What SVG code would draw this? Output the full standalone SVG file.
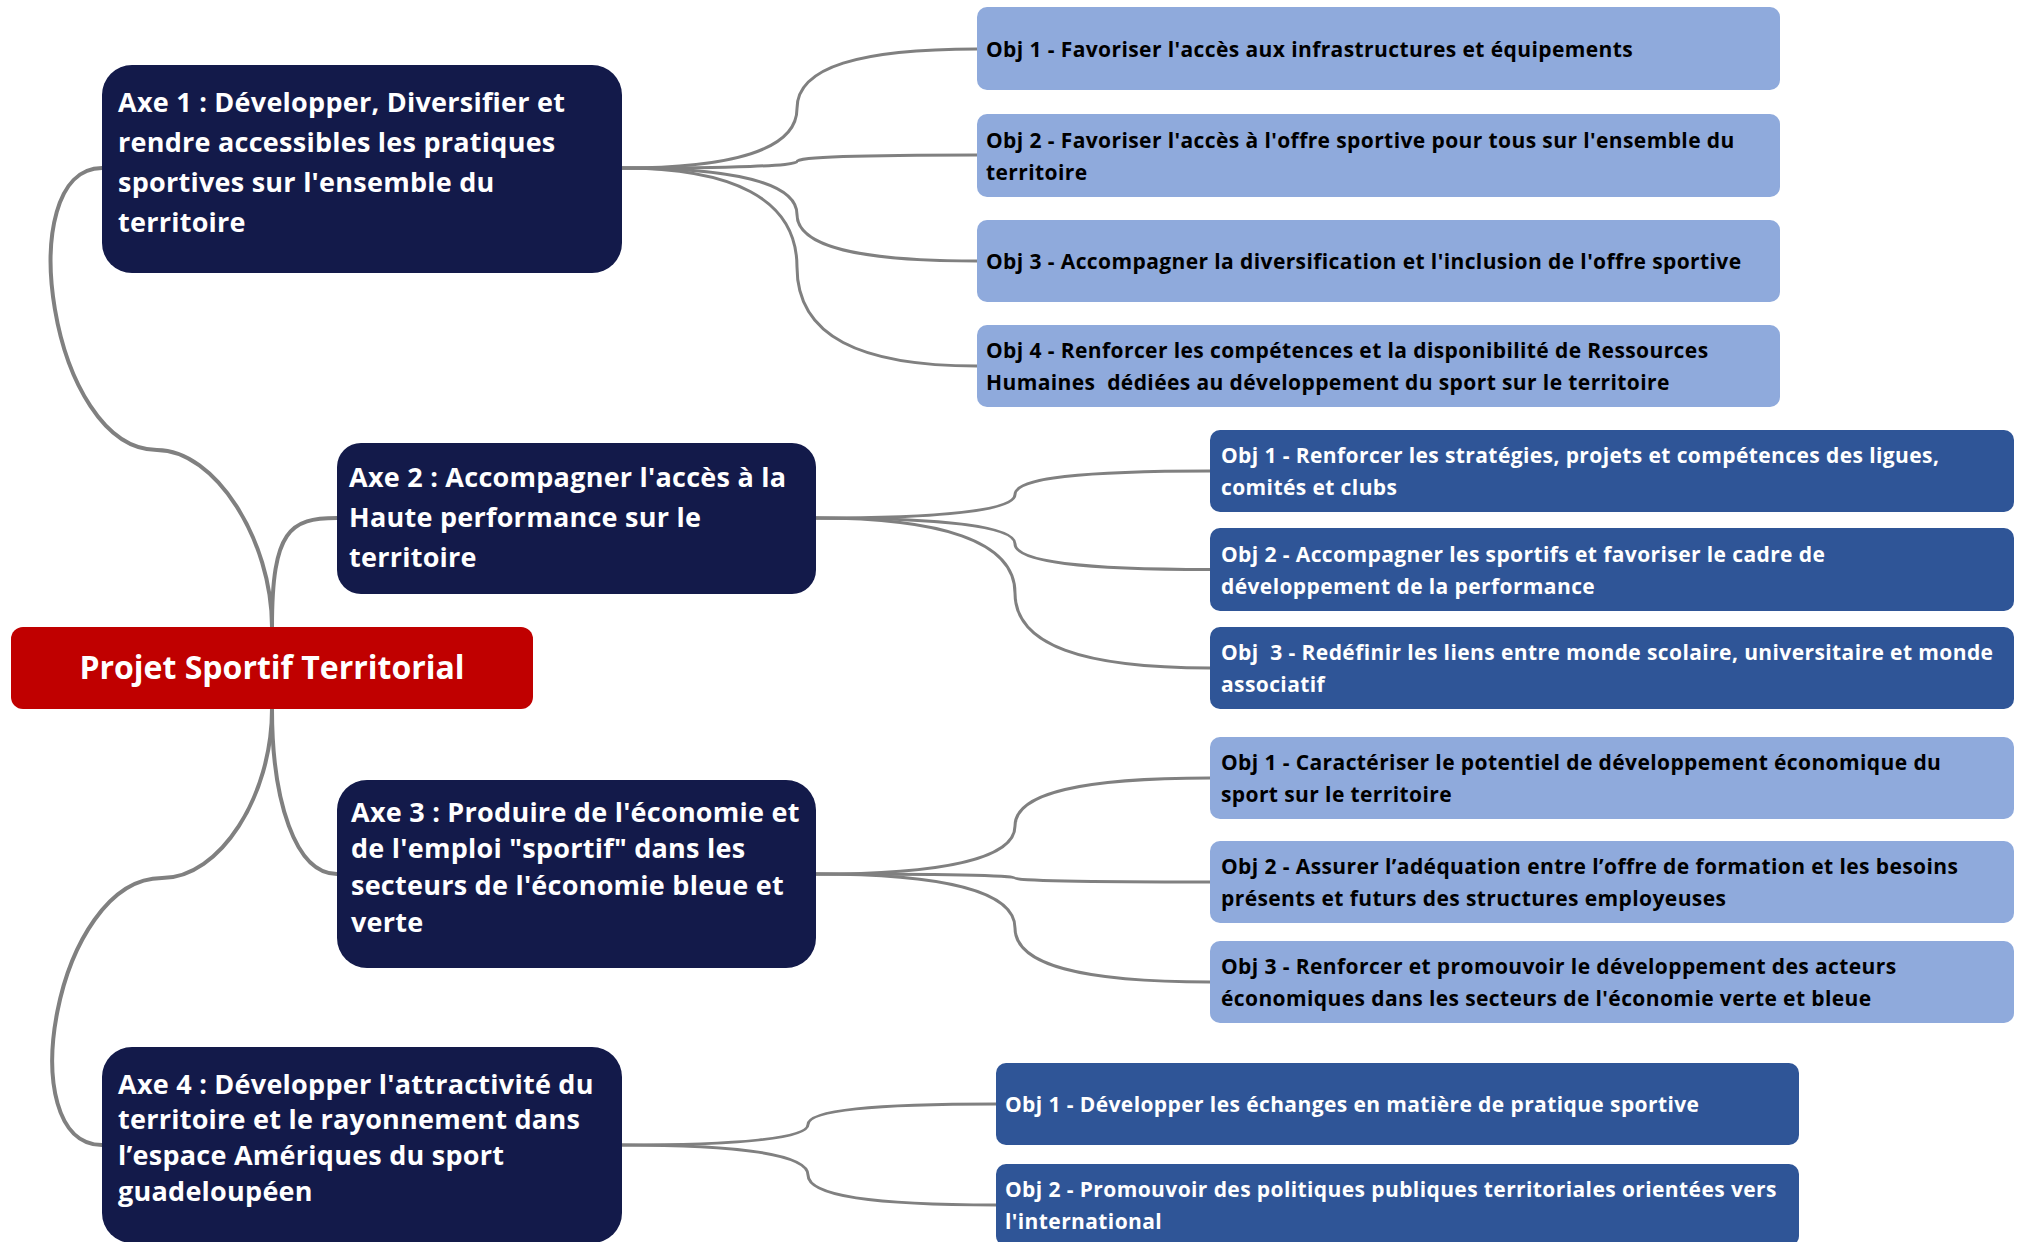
<svg xmlns="http://www.w3.org/2000/svg" width="2024" height="1242" viewBox="0 0 2024 1242">
<style>
.root{fill:#C00000}
.axe{fill:#131A4A}
.lo{fill:#8FAADC}
.do{fill:#2F5597}
text{font-family:"Open Sans","Liberation Sans",sans-serif;font-weight:700;white-space:pre}
.rt{fill:#fff;font-size:32px;text-anchor:middle}
.at{fill:#fff;font-size:27px;letter-spacing:0.25px}
.ot{fill:#000;font-size:21px;letter-spacing:0.4px}
.wt{fill:#fff;font-size:21px;letter-spacing:0.4px}
.c0{fill:none;stroke:#808080;stroke-width:4;stroke-linecap:round}
.c1{fill:none;stroke:#808080;stroke-width:3;stroke-linecap:round}
</style>
<rect width="2024" height="1242" fill="#fff"/>
<g id="connectors">
<path class="c0" d="M272,627 C272,540 215,450 157,450 C50,450 10,168 102,168"/>
<path class="c0" d="M272,627 C272,530 290,518 337,518"/>
<path class="c0" d="M272,709 C272,800 295,874 337,874"/>
<path class="c0" d="M272,709 C272,796 220,878 162,878 C55,878 10,1145 102,1145"/>
<path class="c1" d="M622,168 C730.5,168 797,150.2 797,108.5 C797,66.9 860,49 977,49"/>
<path class="c1" d="M622,168 C730.5,168 797,166 797,161.5 C797,157 860,155 977,155"/>
<path class="c1" d="M622,168 C730.5,168 797,182 797,214.5 C797,247 860,261 977,261"/>
<path class="c1" d="M622,168 C730.5,168 797,197.7 797,267 C797,336.3 860,366 977,366"/>
<path class="c1" d="M816,518 C939.4,518 1015,511 1015,494.5 C1015,478 1083,471 1210,471"/>
<path class="c1" d="M816,518 C939.4,518 1015,525.7 1015,543.75 C1015,561.8 1083,569.5 1210,569.5"/>
<path class="c1" d="M816,518 C939.4,518 1015,540.5 1015,593 C1015,645.5 1083,668 1210,668"/>
<path class="c1" d="M816,874 C939.4,874 1015,859.6 1015,826 C1015,792.4 1083,778 1210,778"/>
<path class="c1" d="M816,874 C939.4,874 1015,875.2 1015,878 C1015,880.8 1083,882 1210,882"/>
<path class="c1" d="M816,874 C939.4,874 1015,890.2 1015,928 C1015,965.8 1083,982 1210,982"/>
<path class="c1" d="M622,1145 C737.3,1145 808,1138.9 808,1124.5 C808,1110.2 873.8,1104 996,1104"/>
<path class="c1" d="M622,1145 C737.3,1145 808,1154 808,1175 C808,1196 873.8,1205 996,1205"/>
</g>
<g id="root">
<rect class="root" x="11" y="627" width="522" height="82" rx="12"/>
<text class="rt" x="272" y="679">Projet Sportif Territorial</text>
</g>
<g id="axe1">
<rect class="axe" x="102" y="65" width="520" height="208" rx="30"/>
<text class="at" x="118" y="112">Axe 1 : Développer, Diversifier et</text>
<text class="at" x="118" y="152">rendre accessibles les pratiques</text>
<text class="at" x="118" y="192">sportives sur l'ensemble du</text>
<text class="at" x="118" y="232">territoire</text>
</g>
<g id="axe2">
<rect class="axe" x="337" y="443" width="479" height="151" rx="24"/>
<text class="at" x="349" y="487">Axe 2 : Accompagner l'accès à la</text>
<text class="at" x="349" y="527">Haute performance sur le</text>
<text class="at" x="349" y="567">territoire</text>
</g>
<g id="axe3">
<rect class="axe" x="337" y="780" width="479" height="188" rx="30"/>
<text class="at" x="351" y="822">Axe 3 : Produire de l'économie et</text>
<text class="at" x="351" y="858">de l'emploi "sportif" dans les</text>
<text class="at" x="351" y="895">secteurs de l'économie bleue et</text>
<text class="at" x="351" y="932">verte</text>
</g>
<g id="axe4">
<rect class="axe" x="102" y="1047" width="520" height="196" rx="30"/>
<text class="at" x="118" y="1094">Axe 4 : Développer l'attractivité du</text>
<text class="at" x="118" y="1129">territoire et le rayonnement dans</text>
<text class="at" x="118" y="1165">l’espace Amériques du sport</text>
<text class="at" x="118" y="1201">guadeloupéen</text>
</g>
<g id="a1o1">
<rect class="lo" x="977" y="7" width="803" height="83" rx="10"/>
<text class="ot" x="986" y="57">Obj 1 - Favoriser l'accès aux infrastructures et équipements</text>
</g>
<g id="a1o2">
<rect class="lo" x="977" y="114" width="803" height="83" rx="10"/>
<text class="ot" x="986" y="148">Obj 2 - Favoriser l'accès à l'offre sportive pour tous sur l'ensemble du</text>
<text class="ot" x="986" y="180">territoire</text>
</g>
<g id="a1o3">
<rect class="lo" x="977" y="220" width="803" height="82" rx="10"/>
<text class="ot" x="986" y="269">Obj 3 - Accompagner la diversification et l'inclusion de l'offre sportive</text>
</g>
<g id="a1o4">
<rect class="lo" x="977" y="325" width="803" height="82" rx="10"/>
<text class="ot" x="986" y="358">Obj 4 - Renforcer les compétences et la disponibilité de Ressources</text>
<text class="ot" x="986" y="390">Humaines  dédiées au développement du sport sur le territoire</text>
</g>
<g id="a2o1">
<rect class="do" x="1210" y="430" width="804" height="82" rx="10"/>
<text class="wt" x="1221" y="463">Obj 1 - Renforcer les stratégies, projets et compétences des ligues,</text>
<text class="wt" x="1221" y="495">comités et clubs</text>
</g>
<g id="a2o2">
<rect class="do" x="1210" y="528" width="804" height="83" rx="10"/>
<text class="wt" x="1221" y="562">Obj 2 - Accompagner les sportifs et favoriser le cadre de</text>
<text class="wt" x="1221" y="594">développement de la performance</text>
</g>
<g id="a2o3">
<rect class="do" x="1210" y="627" width="804" height="82" rx="10"/>
<text class="wt" x="1221" y="660">Obj  3 - Redéfinir les liens entre monde scolaire, universitaire et monde</text>
<text class="wt" x="1221" y="692">associatif</text>
</g>
<g id="a3o1">
<rect class="lo" x="1210" y="737" width="804" height="82" rx="10"/>
<text class="ot" x="1221" y="770">Obj 1 - Caractériser le potentiel de développement économique du</text>
<text class="ot" x="1221" y="802">sport sur le territoire</text>
</g>
<g id="a3o2">
<rect class="lo" x="1210" y="841" width="804" height="82" rx="10"/>
<text class="ot" x="1221" y="874">Obj 2 - Assurer l’adéquation entre l’offre de formation et les besoins</text>
<text class="ot" x="1221" y="906">présents et futurs des structures employeuses</text>
</g>
<g id="a3o3">
<rect class="lo" x="1210" y="941" width="804" height="82" rx="10"/>
<text class="ot" x="1221" y="974">Obj 3 - Renforcer et promouvoir le développement des acteurs</text>
<text class="ot" x="1221" y="1006">économiques dans les secteurs de l'économie verte et bleue</text>
</g>
<g id="a4o1">
<rect class="do" x="996" y="1063" width="803" height="82" rx="10"/>
<text class="wt" x="1005" y="1112">Obj 1 - Développer les échanges en matière de pratique sportive</text>
</g>
<g id="a4o2">
<rect class="do" x="996" y="1164" width="803" height="82" rx="10"/>
<text class="wt" x="1005" y="1197">Obj 2 - Promouvoir des politiques publiques territoriales orientées vers</text>
<text class="wt" x="1005" y="1229">l'international</text>
</g>
</svg>
